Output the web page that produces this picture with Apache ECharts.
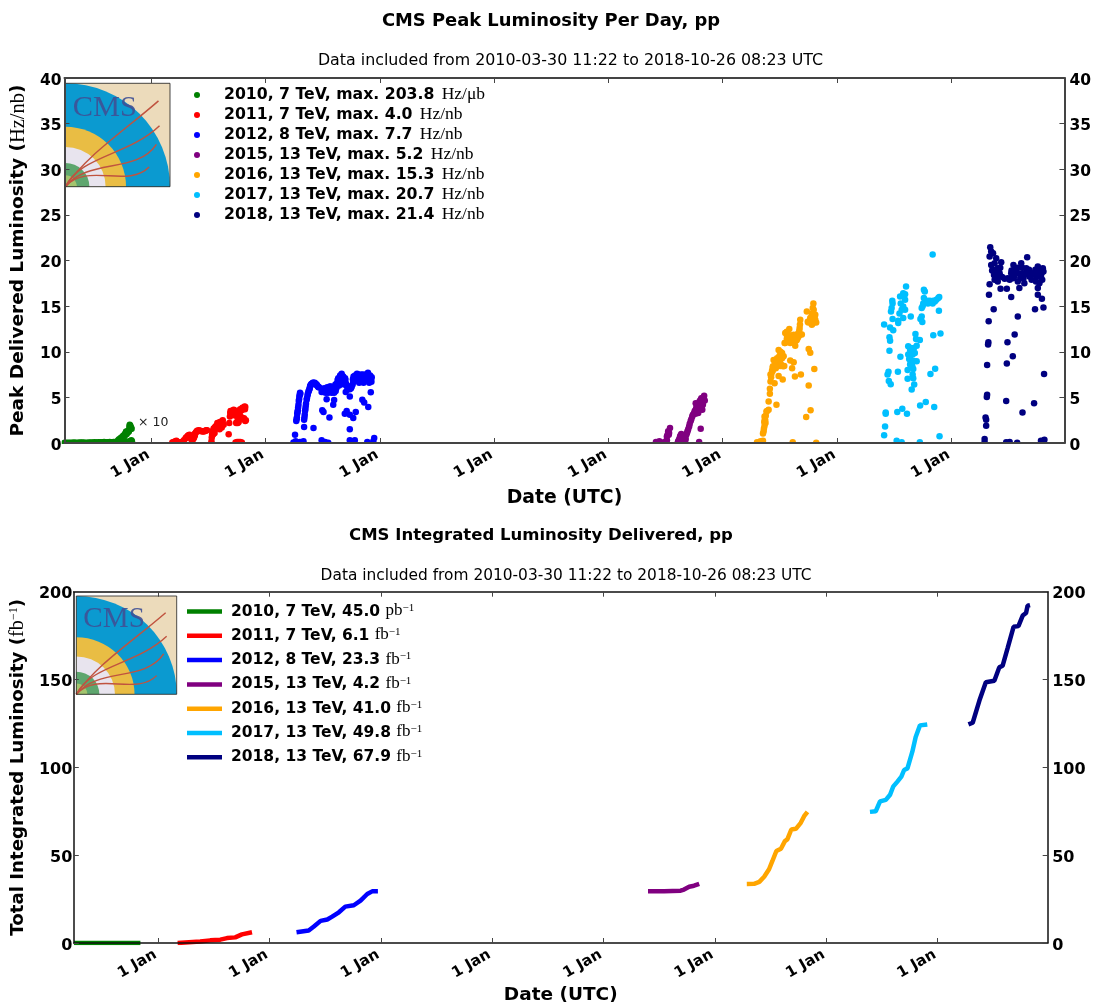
<!DOCTYPE html>
<html>
<head>
<meta charset="utf-8">
<script src="https://cdn.jsdelivr.net/npm/echarts@6/dist/echarts.min.js"></script>
<style>html,body{margin:0;padding:0;background:#fff}#c{width:1094px;height:1006px}</style>
</head>
<body>
<div id="c"></div>
<script>
// Values are [day of year, value]
const peak2010 = [[89,.03],[95,.02],[101,.03],[107,.04],[113,.03],[119,.05],[125,.04],[131,.03],[137,.05],[143,.05],[149,.06],[155,.04],[161,.03],[167,.06],[173,.05],[179,.06],[185,.07],[191,.06],[197,.08],[203,.07],[209,.08],[215,.1],[221,.09],[227,.08],[233,.1],[239,.09],[245,.1],[250,.1],[256,.1],[259,.2],[262,.25],[265,.35],[268,.4],[271,.5],[274,.55],[277,.7],[280,.75],[283,.9],[284,1.1],[286,1.25],[288,1.1],[290,1.3],[292,1.2],[294,1.25],[296,1.5],[298,1.75],[297,2.0],[299,1.9],[301,1.7],[303,1.55],[302,.3],[297,.2],[304,.2],[290,.15],[285,.1],[260,.3],[263,.4],[267,.5],[270,.6],[273,.6],[276,.8],[279,.85],[282,1.0],[285,1.2],[287,1.0],[295,1.4],[300,1.6],[298,1.5],[296,1.8]];
const peak2011 = [[68,.05],[72,.1],[78,.2],[81,.25],[85,.1],[92,.05],[100,.15],[105,.3],[110,.5],[116,.7],[120,.85],[123,.9],[127,.5],[131,.2],[134,.4],[137,.55],[140,.8],[142,1.1],[147,1.35],[152,1.4],[158,1.35],[163,1.25],[169,1.3],[174,1.35],[179,1.4],[193,.2],[194,.6],[195,.9],[196,1.3],[198,1.25],[200,1.6],[204,1.7],[206,1.8],[210,1.95],[213,2.0],[217,2.2],[222,2.2],[225,2.3],[229,2.5],[232,2.0],[226,1.7],[219,1.5],[248,.95],[250,2.2],[253,3.3],[256,3.5],[260,3.4],[264,3.65],[268,3.4],[272,2.2],[277,2.2],[280,2.3],[276,3.1],[283,3.6],[285,3.7],[288,3.6],[290,3.7],[294,3.8],[297,3.9],[299,4.0],[301,3.95],[285,2.9],[290,2.8],[296,2.6],[301,2.4],[270,.05],[275,.1],[280,.1],[285,.1],[290,.05],[252,2.9],[254,3.5],[258,3.3],[262,3.5],[266,3.6],[270,3.0],[274,2.3],[279,2.6],[282,3.3],[286,3.5],[292,3.85],[295,3.7],[298,3.8],[300,3.7],[303,2.5],[297,2.7],[201,1.4],[203,1.1],[197,.9],[199,1.0],[208,1.8],[212,2.2],[215,1.9],[220,2.3],[224,2.0],[228,2.4],[118,.8],[112,.6],[139,1.0],[144,1.2],[150,1.3],[155,1.35],[166,1.3],[171,1.3],[176,1.4]];
const peak2012 = [[90,.05],[95,.9],[97,.2],[101,.05],[111,.1],[117,.05],[122,.2],[99,2.4],[101,2.8],[104,3.6],[106,4.2],[109,5.1],[111,5.5],[108,4.8],[124,1.75],[154,1.65],[124,2.55],[127,3.5],[129,4.0],[132,4.7],[135,5.2],[138,5.65],[141,5.9],[143,6.2],[146,6.4],[150,6.5],[154,6.6],[158,6.6],[161,6.5],[164,6.4],[168,6.2],[172,6.1],[180,5.6],[183,5.9],[186,5.6],[190,5.9],[193,5.5],[196,6.0],[199,5.8],[201,5.5],[204,6.1],[207,5.7],[210,6.2],[212,5.5],[216,5.9],[220,5.5],[222,6.1],[225,5.7],[228,6.5],[231,6.9],[233,7.1],[236,6.3],[239,7.4],[241,6.8],[244,7.6],[247,7.0],[249,7.3],[252,6.4],[255,7.1],[258,6.5],[262,6.1],[265,5.9],[268,6.2],[272,6.1],[276,6.2],[280,7.0],[282,7.3],[284,6.8],[287,7.4],[290,7.1],[293,7.6],[295,6.9],[298,7.3],[300,6.6],[303,7.2],[306,7.5],[308,7.0],[311,7.4],[314,6.6],[316,7.2],[319,6.9],[322,7.5],[325,7.0],[328,7.7],[330,7.2],[332,6.6],[335,7.4],[338,7.0],[340,7.2],[196,4.8],[182,3.6],[186,3.4],[205,2.8],[220,4.7],[217,4.2],[254,3.2],[260,3.5],[270,3.1],[281,2.75],[289,3.4],[270,5.1],[257,5.6],[310,4.75],[316,4.45],[329,3.95],[337,5.55],[270,1.5],[270,.3],[286,.3],[326,.1],[348,.55],[345,.2],[180,.3],[191,.1],[201,.02],[283,.2],[100,2.6],[102,3.2],[103,3.4],[105,3.9],[107,4.6],[110,5.3],[112,5.4],[125,2.8],[126,3.1],[128,3.7],[130,4.3],[133,4.9],[136,5.4],[139,5.7],[142,6.0],[144,6.3],[148,6.5],[152,6.6],[156,6.55],[160,6.4],[166,6.3],[170,6.1],[182,5.8],[188,6.0],[192,5.7],[198,6.1],[203,5.8],[206,6.2],[209,6.0],[214,6.1],[218,5.8],[224,6.4],[227,6.0],[230,6.3],[232,6.7],[235,7.0],[238,7.1],[240,7.3],[243,7.4],[246,7.3],[248,6.8],[250,7.0],[251,6.6],[254,6.7],[256,6.9],[260,6.3],[264,6.1],[270,5.9],[274,6.0],[279,6.4],[281,6.7],[283,7.1],[286,7.2],[289,7.0],[292,7.3],[294,7.2],[297,7.5],[299,7.0],[302,7.4],[305,7.1],[307,7.3],[310,7.1],[313,7.5],[315,7.0],[318,7.3],[320,7.4],[323,7.1],[326,7.4],[329,7.4],[331,7.0],[333,7.1],[336,7.2],[339,6.7]];
const peak2015 = [[152,.1],[163,.2],[173,.05],[184,.2],[187,.7],[191,1.3],[194,1.1],[197,1.65],[223,.2],[229,.7],[233,1.0],[237,.4],[242,.2],[247,.45],[253,1.3],[258,1.8],[263,2.4],[268,2.9],[274,3.3],[279,3.65],[284,4.2],[287,3.3],[290,4.4],[295,4.75],[300,3.65],[306,5.18],[308,4.65],[279,4.35],[284,3.5],[295,1.55],[290,.1],[302,4.2],[295,4.2],[298,3.8],[304,4.9],[255,1.5],[260,2.1],[265,2.6],[270,3.1],[276,3.5],[281,3.9],[286,4.3],[289,4.1],[292,4.6],[297,4.9],[301,4.7],[303,5.0],[290,3.7],[296,3.9],[278,3.2],[282,3.3],[288,3.5],[187,.3],[189,.9],[193,.9],[222,.05],[226,.4],[231,.85],[235,.6],[240,.1],[245,.2],[249,.9],[251,1.1]];
const peak2016 = [[110,.07],[121,.2],[129,.25],[129,1.05],[134,1.9],[137,2.2],[134,2.9],[140,3.45],[147,3.65],[172,4.2],[147,4.55],[151,5.4],[151,5.95],[153,6.75],[166,6.55],[192,6.95],[179,7.35],[153,7.5],[158,7.95],[163,8.2],[169,8.6],[163,9.1],[174,9.3],[184,9.65],[179,10.2],[190,9.85],[195,9.5],[197,8.45],[184,8.45],[216,9.05],[227,8.85],[222,8.2],[231,7.3],[250,7.5],[275,6.3],[293,8.1],[280,9.9],[275,10.3],[267,2.85],[281,3.6],[224,.07],[299,.03],[200,12.05],[198,10.95],[213,12.5],[211,11.5],[222,11.3],[227,11.85],[232,10.65],[237,11.3],[243,11.7],[248,11.9],[253,11.9],[246,12.6],[248,13.5],[269,14.4],[275,13.3],[280,13.7],[285,12.95],[290,14.05],[296,13.5],[299,13.2],[290,15.3],[288,14.8],[296,14.05],[285,14.05],[200,10.95],[216,10.95],[205,11.4],[190,9.3],[185,10.0],[170,8.2],[160,8.3],[206,11.7],[218,11.7],[234,11.2],[240,11.5],[282,13.2],[292,13.4],[272,13.3],[288,13.1],[131,1.3],[132,1.6],[133,2.3],[135,2.6],[136,2.5],[138,3.0],[142,3.5],[155,7.2],[156,7.6],[160,7.9],[161,8.4],[165,8.3],[167,8.9],[171,8.9],[173,8.6],[176,9.0],[181,9.5],[183,9.0],[187,8.6],[193,8.4],[205,12.2],[208,11.6],[215,11.8],[220,11.5],[225,11.5],[230,11.3],[241,12.0],[245,12.3],[247,13.0],[274,13.2],[278,13.4],[283,13.6],[287,14.2],[291,14.6],[294,13.6]];
const peak2017 = [[150,.85],[153,1.8],[155,3.35],[155,3.2],[192,3.4],[208,3.75],[223,3.2],[265,4.1],[283,4.5],[310,3.95],[327,.75],[190,.25],[206,.07],[264,.07],[150,13.0],[169,12.65],[179,12.35],[167,11.6],[169,11.2],[167,10.1],[164,7.8],[161,7.5],[165,6.8],[171,6.45],[194,7.8],[202,9.45],[177,13.6],[172,14.4],[174,14.8],[177,15.3],[176,15.6],[195,13.15],[195,13.4],[211,13.7],[235,13.85],[199,14.2],[206,14.6],[203,15.3],[201,16.05],[211,16.4],[217,15.7],[220,17.15],[217,14.6],[211,14.95],[217,16.3],[250,11.95],[252,11.4],[264,11.3],[307,11.8],[330,12.0],[227,10.6],[233,10.2],[227,9.7],[233,9.3],[238,8.75],[233,8.6],[243,8.1],[225,8.0],[254,8.95],[248,9.85],[254,10.65],[245,10.4],[241,9.7],[235,8.95],[241,7.5],[243,7.1],[225,7.05],[246,6.4],[238,5.85],[298,7.55],[313,8.15],[270,13.85],[266,13.6],[272,13.25],[325,14.5],[270,14.8],[277,16.8],[280,16.6],[277,15.9],[275,15.3],[285,15.5],[290,15.3],[296,15.6],[301,15.45],[307,15.6],[312,15.5],[317,15.7],[326,16.0],[323,15.9],[305,20.65],[273,15],[230,9.2],[235,10.4],[240,8.4],[245,9.0],[283,15.4],[288,15.6],[293,15.4],[305,15.3]];
const peak2018 = [[106,.07],[106,.45],[109,2.8],[111,1.9],[111,2.55],[113,5.05],[114,5.3],[114,8.55],[117,10.8],[118,11.05],[119,13.35],[120,16.25],[122,17.4],[135,14.65],[122,20.45],[124,21.45],[127,21],[133,20.8],[143,20.25],[127,19.5],[133,19],[138,19.7],[143,18.6],[138,17.9],[148,17.7],[148,19.15],[159,19.8],[154,18.6],[157,16.9],[177,16.9],[191,16],[180,18.05],[191,18.6],[198,19.5],[196,18.05],[207,18.8],[212,17.7],[217,17],[223,19.7],[228,18.6],[233,17.5],[242,20.35],[239,19.15],[249,18.25],[260,18.6],[270,17.7],[276,19.35],[281,17.5],[292,19.15],[286,18.25],[276,17],[276,16.25],[289,15.8],[267,14.65],[294,14.85],[212,13.85],[202,11.9],[179,11.05],[196,9.5],[177,8.7],[296,7.55],[175,4.6],[264,4.35],[227,3.35],[286,.25],[297,.35],[186,.1],[175,.07],[210,.03],[290,.2],[130,18.9],[136,18.4],[146,18.2],[150,18.9],[156,19.2],[162,18.2],[170,18.0],[186,17.9],[192,18.9],[200,18.2],[204,18.8],[210,19.2],[214,18.6],[220,18.1],[226,19.2],[230,18.0],[236,18.5],[244,18.9],[248,19.0],[252,18.4],[256,17.9],[264,18.5],[268,19.0],[272,18.2],[280,18.6],[284,19.0],[288,18.6],[294,18.8],[290,17.9]];

const int2010 = [[89,0],[150,.005],[220,.01],[270,.02],[307,.045]];
const int2011 = [[64,.05],[138,.9],[171,1.5],[204,1.9],[226,2.8],[253,3.2],[275,4.9],[308,6.15]];
const int2012 = [[89,6.15],[129,7.15],[146,9.4],[168,12.6],[190,13.4],[206,15],[228,17.5],[249,20.7],[277,21.5],[299,24.1],[321,27.9],[337,29.4],[356,29.45]];
const int2015 = [[146,29.45],[199,29.5],[253,29.75],[264,30.4],[281,32],[297,32.6],[314,33.65]];
const int2016 = [[105,33.65],[129,33.7],[146,34.8],[162,37.7],[178,42],[189,46.7],[202,52.4],[217,53.7],[230,58],[238,59],[251,64.6],[266,65],[282,68.4],[293,72.2],[304,74.65]];
const int2017 = [[143,74.65],[162,75],[176,80.6],[195,81.5],[209,84.4],[219,89],[233,91.9],[246,94.7],[255,98.5],[266,99.4],[282,108.9],[293,117.3],[307,123.9],[331,124.45]];
const int2018 = [[101,124.45],[115,125.4],[137,138],[158,148.4],[186,149.3],[202,156.9],[213,157.8],[230,168.2],[249,180],[265,180.4],[279,186.4],[290,187.9],[295,192],[303,192.35]];

const years = [2010,2011,2012,2015,2016,2017,2018];
const colors = ['#008000','#ff0000','#0000ff','#800080','#ffa500','#00bfff','#000080'];
const peakNames = ['2010, 7 TeV, max. 203.8 Hz/μb','2011, 7 TeV, max. 4.0 Hz/nb','2012, 8 TeV, max. 7.7 Hz/nb','2015, 13 TeV, max. 5.2 Hz/nb','2016, 13 TeV, max. 15.3 Hz/nb','2017, 13 TeV, max. 20.7 Hz/nb','2018, 13 TeV, max. 21.4 Hz/nb'];
const intNames = ['2010, 7 TeV, 45.0 pb','2011, 7 TeV, 6.1 fb','2012, 8 TeV, 23.3 fb','2015, 13 TeV, 4.2 fb','2016, 13 TeV, 41.0 fb','2017, 13 TeV, 49.8 fb','2018, 13 TeV, 67.9 fb'];
const peakData = [peak2010,peak2011,peak2012,peak2015,peak2016,peak2017,peak2018];
const intData = [int2010,int2011,int2012,int2015,int2016,int2017,int2018];
const jan1Years = [2011,2012,2013,2014,2015,2016,2017,2018];
const jan1Label = '1 Jan';
const xMin = Date.UTC(2010,2,30,11,22);
const xMax = Date.UTC(2018,11,28);

const toTime = (y,d) => Date.UTC(y,0,1) + d*864e5;
const ticks = jan1Years.map(y => Date.UTC(y,0,1));
const sans = 'DejaVu Sans', serif = 'Liberation Serif';

function xAxes(gi, nameGap, nameSize, axisCol, lw){
  const base = {gridIndex:gi,type:'value',min:xMin,max:xMax,scale:true,z:30,splitLine:{show:false},axisLine:{onZero:false,lineStyle:{color:axisCol,width:lw}},
    axisTick:{show:true,inside:true,length:5,customValues:ticks,lineStyle:{color:'#444',width:1}},minorTick:{show:false}};
  return [
    {...base,position:'bottom',name:'Date (UTC)',nameLocation:'middle',nameGap,
     nameTextStyle:{fontFamily:sans,fontWeight:'bold',fontSize:nameSize,color:'#000'},
     axisLabel:{show:true,customValues:ticks,formatter:()=>jan1Label,rotate:30,fontFamily:sans,fontWeight:'bold',fontSize:15,color:'#000',margin:9,padding:[0,3,0,0],hideOverlap:false}},
    {...base,position:'top',axisLabel:{show:false}}
  ];
}
function yAxes(gi,max,interval,name,nameGap,nameSize,labelSize,marginL,marginR,axisCol,lw){
  const nameRich = {
    n:{fontFamily:sans,fontWeight:'bold',fontSize:nameSize,color:'#000'},
    u:{fontFamily:serif,fontWeight:'normal',fontSize:nameSize+2,color:'#000'},
    s:{fontFamily:serif,fontSize:12,color:'#000',padding:[0,0,8,0]}
  };
  const label = margin => ({margin,formatter:v=>'{a|'+v+'}',rich:{a:{fontFamily:sans,fontWeight:'bold',fontSize:labelSize,color:'#000',padding:[5,0,0,0]}}});
  const base = {gridIndex:gi,type:'value',min:0,max,interval,z:30,splitLine:{show:false},axisLine:{show:true,lineStyle:{color:axisCol,width:lw}},
    axisTick:{show:true,inside:true,length:5,lineStyle:{color:'#444',width:1}}};
  return [
    {...base,position:'left',axisLabel:label(marginL),name,nameLocation:'middle',nameGap,nameTextStyle:{rich:nameRich}},
    {...base,position:'right',axisLabel:label(marginR)}
  ];
}
function titles(cx1,cx2,y1,y2,s1,s2,t1,t2){
  return [
    {text:t1,left:cx1,top:y1,padding:0,textAlign:'center',textStyle:{fontFamily:sans,fontWeight:'bold',fontSize:s1,color:'#000'}},
    {text:t2,left:cx2,top:y2,padding:0,textAlign:'center',textStyle:{fontFamily:sans,fontWeight:'normal',fontSize:s2,color:'#000'}}
  ];
}
function logo(x,y,w,h){
  const sec = (r,fill)=>({type:'sector',shape:{cx:0,cy:100,r,r0:0,startAngle:-Math.PI/2,endAngle:0},style:{fill}});
  const curve = (x2,y2,cx1,cy1,cx2,cy2)=>({type:'bezierCurve',shape:{x1:0,y1:100,x2,y2,cpx1:cx1,cpy1:cy1,cpx2:cx2,cpy2:cy2},style:{stroke:'#c0533f',lineWidth:1.4,fill:null}});
  return {type:'group',x,y,scaleX:w/100,scaleY:h/100,silent:true,z:20,children:[
    {type:'rect',shape:{x:0,y:0,width:100,height:100},style:{fill:'#ecdbbb'}},
    sec(100,'#0b9ad0'),sec(58,'#e9bd44'),sec(38.5,'#e8e4ee'),sec(23,'#5ea66e'),sec(11,'#a3c56e'),
    {type:'text',x:7,y:9.5,style:{text:'CMS',fontFamily:serif,fontSize:29,fill:'#3f5095',fontWeight:'normal',opacity:.9}},
    curve(89,17,20,70,55,47),curve(90,41,15,70,60,70),curve(87,59,22,72,68,88),curve(80,81,20,76,60,102),
    {type:'rect',shape:{x:0,y:0,width:100,height:100},style:{fill:null,stroke:'#222',lineWidth:0.8}}
  ]};
}
const mask = (x,y,width,height)=>({type:'rect',silent:true,z:10,shape:{x,y,width,height},style:{fill:'#fff'}});

const series = [];
peakData.forEach((d,i)=>series.push({name:peakNames[i],type:'scatter',xAxisIndex:0,yAxisIndex:0,symbolSize:6.5,
  itemStyle:{color:colors[i],opacity:1},data:d.map(p=>[toTime(years[i],p[0]),p[1]])}));
intData.forEach((d,i)=>series.push({name:intNames[i],type:'line',xAxisIndex:2,yAxisIndex:2,showSymbol:false,symbol:'none',
  lineStyle:{color:colors[i],width:4.5},itemStyle:{color:colors[i]},data:d.map(p=>[toTime(years[i],p[0]),p[1]])}));

const legRich1 = {
  b:{fontFamily:sans,fontWeight:'bold',fontSize:15.7,color:'#000',lineHeight:16},
  u:{fontFamily:serif,fontWeight:'normal',fontSize:17.5,color:'#000',lineHeight:16,padding:[0,0,2,4]}
};
const legRich2 = {
  b:{fontFamily:sans,fontWeight:'bold',fontSize:15.5,color:'#000',lineHeight:16,padding:[0,0,0,4]},
  u:{fontFamily:serif,fontWeight:'normal',fontSize:17,color:'#000',lineHeight:16,padding:[0,0,2,2]},
  s:{fontFamily:serif,fontWeight:'normal',fontSize:11,color:'#000',padding:[0,0,7,0]}
};
const subtitle = 'Data included from 2010-03-30 11:22 to 2018-10-26 08:23 UTC';
const option = {
  animation:false,backgroundColor:'#fff',
  title:[...titles(551,570.5,12,53,17.9,15.85,'CMS Peak Luminosity Per Day, pp',subtitle),
         ...titles(541,566,527,568,16.5,15.4,'CMS Integrated Luminosity Delivered, pp',subtitle)],
  grid:[{left:62,top:78,width:1003.5,height:365},{left:73.3,top:591.7,width:974.4,height:354.3}],
  xAxis:[...xAxes(0,46,18.8,'#444',2),...xAxes(1,43,18.5,'#111',1.5)],
  yAxis:[...yAxes(0,40,5,'{n|Peak Delivered Luminosity (}{u|Hz/nb}{n|)}',34,18.5,15.5,3,5,'#444',2),
         ...yAxes(1,200,50,'{n|Total Integrated Luminosity (}{u|fb}{s|−1}{n|)}',37.5,18.2,16,1.5,4.5,'#111',1.5)],
  legend:[
    {data:peakNames,orient:'vertical',left:194,top:85,itemWidth:44,itemHeight:6,itemGap:0,icon:'circle',symbolKeepAspect:true,padding:0,selectedMode:false,
     formatter:n=>{const k=n.lastIndexOf(' ');return '{b|'+n.slice(0,k)+'} {u|'+n.slice(k+1)+'}';},textStyle:{rich:legRich1}},
    {data:intNames,orient:'vertical',left:187,top:602,itemWidth:35,itemHeight:4.5,itemGap:5.3,icon:'rect',symbolKeepAspect:false,padding:0,selectedMode:false,
     formatter:n=>{const k=n.lastIndexOf(' ');return '{b|'+n.slice(0,k)+'} {u|'+n.slice(k+1)+'}{s|−1}';},textStyle:{rich:legRich2}}
  ],
  graphic:{elements:[
    mask(30,444,1036,5),mask(50,435,11.5,14),mask(62,947,986,4),
    logo(65.3,83.3,104.7,103.4),
    logo(76.3,596,100.4,98.3),
    {type:'text',x:138,y:416,style:{text:'× 10',fontFamily:sans,fontSize:12.5,fill:'#222'}}
  ]},
  series
};
echarts.init(document.getElementById('c'),null,{renderer:'canvas'}).setOption(option);
</script>
</body>
</html>
